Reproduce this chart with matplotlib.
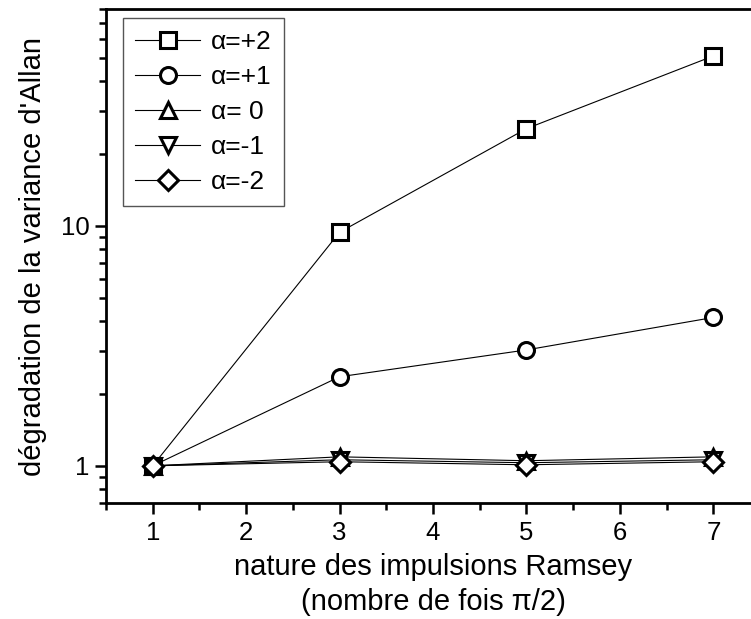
import numpy as np
import matplotlib
matplotlib.use('Agg')
import matplotlib.pyplot as plt
from matplotlib.ticker import MultipleLocator, LogLocator, NullFormatter, FixedLocator, FixedFormatter

plt.rcParams['font.family'] = ['Liberation Sans', 'DejaVu Sans']

# Data.
x = [1, 3, 5, 7]
alpha_p2 = [1.0, 9.4, 25.4, 51.0]
alpha_p1 = [1.0, 2.35, 3.04, 4.15]
alpha_0 = [1.0, 1.09, 1.05, 1.09]
alpha_m1 = [1.0, 1.06, 1.03, 1.06]
alpha_m2 = [1.0, 1.04, 1.01, 1.04]
labels = [u'\u03b1=+2', u'\u03b1=+1', u'\u03b1= 0', u'\u03b1=-1', u'\u03b1=-2']
markers = ['s', 'o', '^', 'v', 'D']
series = [alpha_p2, alpha_p1, alpha_0, alpha_m1, alpha_m2]
msizes = [11, 11.5, 11.5, 11.5, 10.5]

fig = plt.figure(figsize=(7.51, 6.19), dpi=100)
ax = fig.add_axes([0.1411, 0.1874, 0.871, 0.798])

for y, m, lab, ms in zip(series, markers, labels, msizes):
    ax.plot(x, y, '-', color='black', linewidth=0.8, marker=m, markersize=ms,
            markerfacecolor='white', markeredgecolor='black', markeredgewidth=2.2,
            label=lab)

ax.set_yscale('log')
ax.set_xlim(0.5, 7.5)
ax.set_ylim(0.70, 80)

ax.xaxis.set_major_locator(MultipleLocator(1))
ax.xaxis.set_minor_locator(MultipleLocator(0.5))
ax.yaxis.set_major_locator(FixedLocator([1, 10]))
ax.yaxis.set_major_formatter(FixedFormatter(['1', '10']))
ax.yaxis.set_minor_locator(LogLocator(base=10, subs=np.arange(2, 10)))
ax.yaxis.set_minor_formatter(NullFormatter())

ax.tick_params(which='major', direction='out', length=8, width=1.8, labelsize=18.5)
ax.tick_params(which='minor', direction='out', length=5, width=1.8)
ax.tick_params(axis='x', pad=5)
ax.tick_params(axis='y', pad=4)

for s in ['left', 'bottom', 'top']:
    ax.spines[s].set_linewidth(2)
ax.spines['right'].set_visible(False)

ax.set_xlabel('nature des impulsions Ramsey\n(nombre de fois \u03c0/2)',
              fontsize=21, linespacing=1.3, labelpad=6)
ax.set_ylabel("d\u00e9gradation de la variance d'Allan", fontsize=21, labelpad=10)

leg = ax.legend(loc='upper left', bbox_to_anchor=(0.0255, 0.982), fontsize=19,
                handlelength=2.5, handletextpad=0.4, labelspacing=0.42,
                borderpad=0.45, borderaxespad=0, fancybox=False, framealpha=1)
leg.get_frame().set_edgecolor('#555555')
leg.get_frame().set_linewidth(1.0)

plt.savefig('out.png', dpi=100)
